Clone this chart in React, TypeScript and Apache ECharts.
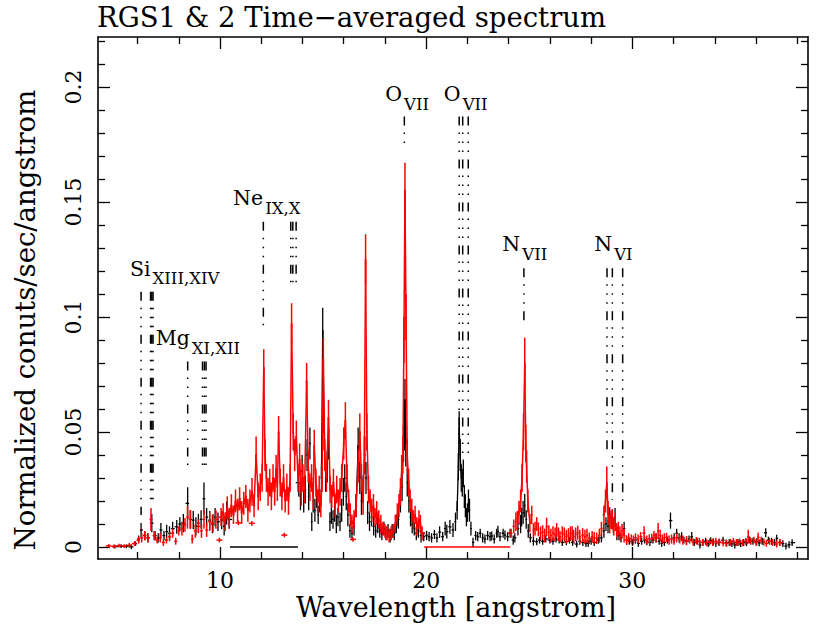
import React, { useEffect, useRef } from "react";
import * as echarts from "echarts";

const FONT = "'DejaVu Serif', 'Liberation Serif', serif";

const X_MIN = 4.08;
const X_MAX = 38.52;
const Y_MIN = -0.0052;
const Y_MAX = 0.2217;

const xMinorTicks = [6, 8, 12, 14, 16, 18, 22, 24, 26, 28, 32, 34, 36, 38];
const xMajorTicks = [10, 20, 30];
const yMinorTicks = [0.01, 0.02, 0.03, 0.04, 0.06, 0.07, 0.08, 0.09, 0.11, 0.12, 0.13, 0.14, 0.16, 0.17, 0.18, 0.19, 0.21, 0.22];
const yMajorTicks = [0, 0.05, 0.1, 0.15, 0.2];

// RGS1 (black): [wavelength, counts, error]
const rgs1 = [
  [4.9, 0.0002, 0.0008], [5.2, 0.0004, 0.0008], [5.45, 0.0003, 0.0008], [5.7, 0.0001, 0.001], [5.9, 0.0015, 0.001],
  [6.05, 0.0035, 0.0015], [6.17, 0.0074, 0.003], [6.35, 0.005, 0.002], [6.5, 0.004, 0.002], [6.69, 0.0104, 0.004],
  [6.85, 0.005, 0.002], [7.0, 0.004, 0.002], [7.13, 0.0074, 0.003], [7.28, 0.005, 0.002], [7.41, 0.0067, 0.003],
  [7.55, 0.006, 0.003], [7.7, 0.008, 0.003], [7.9, 0.0088, 0.003], [8.05, 0.01, 0.003], [8.22, 0.0104, 0.004],
  [8.43, 0.019, 0.007], [8.57, 0.012, 0.004], [8.7, 0.0117, 0.004], [8.83, 0.009, 0.004], [8.95, 0.0104, 0.004],
  [9.08, 0.012, 0.004], [9.22, 0.021, 0.007], [9.35, 0.013, 0.004], [9.5, 0.0117, 0.004], [9.63, 0.01, 0.004],
  [9.76, 0.013, 0.004], [9.9, 0.011, 0.004], [10.08, 0.0117, 0.004], [10.2, 0.009, 0.004], [10.32, 0.0148, 0.005],
  [10.44, 0.012, 0.004],
  [13.82, 0.028, 0.006], [13.9, 0.022, 0.006], [13.98, 0.033, 0.007], [14.06, 0.02, 0.005], [14.14, 0.025, 0.006],
  [14.22, 0.04, 0.007], [14.3, 0.022, 0.006], [14.36, 0.045, 0.007], [14.45, 0.011, 0.004], [14.52, 0.02, 0.005],
  [14.6, 0.016, 0.005], [14.68, 0.022, 0.005], [14.76, 0.014, 0.004], [14.84, 0.02, 0.005], [14.92, 0.03, 0.006],
  [14.98, 0.094, 0.01], [15.05, 0.05, 0.008], [15.12, 0.03, 0.006], [15.2, 0.035, 0.007], [15.27, 0.045, 0.007],
  [15.33, 0.011, 0.004], [15.4, 0.015, 0.005], [15.48, 0.012, 0.004], [15.56, 0.016, 0.005], [15.64, 0.01, 0.004],
  [15.72, 0.013, 0.004], [15.82, 0.011, 0.004], [15.9, 0.016, 0.005], [15.98, 0.024, 0.006], [16.05, 0.03, 0.006],
  [16.12, 0.022, 0.006], [16.2, 0.014, 0.005], [16.3, 0.007, 0.003], [16.4, 0.006, 0.003], [16.5, 0.009, 0.004],
  [16.6, 0.018, 0.005], [16.7, 0.044, 0.008], [16.78, 0.03, 0.007], [16.86, 0.02, 0.006], [16.94, 0.025, 0.006],
  [17.02, 0.04, 0.008], [17.08, 0.03, 0.007], [17.16, 0.015, 0.005], [17.25, 0.011, 0.004], [17.35, 0.013, 0.004],
  [17.45, 0.009, 0.004], [17.55, 0.007, 0.003], [17.65, 0.01, 0.004], [17.75, 0.007, 0.003], [17.85, 0.006, 0.003],
  [17.95, 0.008, 0.003], [18.05, 0.006, 0.003], [18.15, 0.007, 0.003], [18.25, 0.005, 0.003], [18.35, 0.007, 0.003],
  [18.45, 0.006, 0.003], [18.55, 0.01, 0.004], [18.65, 0.012, 0.004], [18.75, 0.02, 0.005], [18.83, 0.026, 0.006],
  [18.9, 0.045, 0.008], [18.94, 0.052, 0.01], [18.97, 0.064, 0.009], [19.01, 0.045, 0.01], [19.08, 0.028, 0.006],
  [19.16, 0.02, 0.005], [19.24, 0.013, 0.004], [19.32, 0.01, 0.004], [19.42, 0.008, 0.003], [19.52, 0.006, 0.003],
  [19.62, 0.007, 0.003], [19.75, 0.005, 0.003], [19.88, 0.0045, 0.002], [20.02, 0.005, 0.002], [20.14, 0.0045, 0.002],
  [20.26, 0.004, 0.002], [20.4, 0.0055, 0.002], [20.52, 0.004, 0.002], [20.65, 0.0065, 0.0025], [20.8, 0.0045, 0.002],
  [20.92, 0.008, 0.003], [21.0, 0.0067, 0.003], [21.15, 0.0088, 0.003], [21.3, 0.0074, 0.003], [21.42, 0.011, 0.004],
  [21.5, 0.016, 0.004], [21.56, 0.035, 0.006], [21.6, 0.052, 0.007], [21.65, 0.04, 0.007], [21.7, 0.03, 0.006],
  [21.75, 0.028, 0.006], [21.8, 0.032, 0.006], [21.85, 0.022, 0.005], [21.9, 0.018, 0.005], [21.95, 0.013, 0.004],
  [22.0, 0.015, 0.004], [22.05, 0.02, 0.005], [22.1, 0.016, 0.005], [22.17, 0.008, 0.003], [22.27, 0.002, 0.002],
  [22.4, 0.005, 0.002], [22.5, 0.0045, 0.002], [22.62, 0.006, 0.002], [22.74, 0.004, 0.002], [22.85, 0.0035, 0.002],
  [22.98, 0.005, 0.002], [23.1, 0.0045, 0.002], [23.18, 0.0048, 0.002], [23.3, 0.0035, 0.002], [23.42, 0.006, 0.002],
  [23.48, 0.0067, 0.0025], [23.58, 0.0045, 0.002], [23.73, 0.006, 0.002], [23.82, 0.0052, 0.002], [23.95, 0.0045, 0.002],
  [24.07, 0.006, 0.002], [24.22, 0.003, 0.002], [24.3, 0.004, 0.002], [24.45, 0.008, 0.003], [24.58, 0.01, 0.004],
  [24.63, 0.013, 0.004], [24.7, 0.015, 0.005], [24.78, 0.018, 0.005], [24.85, 0.012, 0.004], [24.95, 0.007, 0.003],
  [25.05, 0.004, 0.002], [25.2, 0.0026, 0.002], [25.36, 0.0023, 0.0015], [25.5, 0.003, 0.0015], [25.65, 0.0025, 0.0015],
  [25.8, 0.0035, 0.0015], [26.0, 0.003, 0.0015], [26.15, 0.0025, 0.0015], [26.3, 0.0035, 0.0015], [26.45, 0.003, 0.0015],
  [26.6, 0.002, 0.0015], [26.8, 0.0023, 0.0015], [26.95, 0.003, 0.0015], [27.1, 0.002, 0.0015], [27.3, 0.0013, 0.0015],
  [27.45, 0.0025, 0.0015], [27.6, 0.002, 0.0015], [27.75, 0.0015, 0.0015], [27.86, 0.0016, 0.0015], [28.0, 0.0025, 0.0015],
  [28.15, 0.002, 0.0015], [28.35, 0.003, 0.0015], [28.5, 0.004, 0.002], [28.62, 0.007, 0.003], [28.72, 0.01, 0.003],
  [28.82, 0.009, 0.003], [28.9, 0.0148, 0.0025], [28.98, 0.011, 0.003], [29.08, 0.009, 0.003], [29.16, 0.013, 0.004],
  [29.25, 0.006, 0.003], [29.35, 0.005, 0.002], [29.45, 0.004, 0.002], [29.6, 0.008, 0.003], [29.72, 0.003, 0.002],
  [29.85, 0.0025, 0.0015], [30.0, 0.002, 0.0015], [30.15, 0.003, 0.0015], [30.29, 0.0016, 0.0015], [30.45, 0.0025, 0.0015],
  [30.6, 0.003, 0.0015], [30.7, 0.0023, 0.0015], [30.85, 0.002, 0.0015], [31.0, 0.003, 0.0015], [31.15, 0.004, 0.002],
  [31.3, 0.0025, 0.0015], [31.42, 0.0016, 0.0015], [31.55, 0.002, 0.0015], [31.7, 0.003, 0.0015], [31.85, 0.0115, 0.0035],
  [32.03, 0.004, 0.002], [32.15, 0.006, 0.002], [32.27, 0.004, 0.002], [32.39, 0.0045, 0.002], [32.5, 0.003, 0.0015],
  [32.62, 0.0025, 0.0015], [32.75, 0.0035, 0.0015], [32.88, 0.0045, 0.002], [33.0, 0.002, 0.0015], [33.14, 0.0025, 0.0015],
  [33.28, 0.0009, 0.0015], [33.42, 0.002, 0.0015], [33.55, 0.0025, 0.0015], [33.68, 0.0015, 0.0015], [33.8, 0.0028, 0.0015],
  [33.93, 0.0023, 0.0015], [34.05, 0.0015, 0.0015], [34.2, 0.002, 0.0015], [34.4, 0.003, 0.0015], [34.55, 0.0018, 0.0015],
  [34.7, 0.002, 0.0015], [34.83, 0.0015, 0.0015], [34.97, 0.0009, 0.0015], [35.12, 0.002, 0.0015], [35.25, 0.0015, 0.0015],
  [35.4, 0.002, 0.0015], [35.54, 0.0019, 0.0015], [35.7, 0.003, 0.0015], [35.85, 0.0025, 0.0015], [36.03, 0.0023, 0.0015],
  [36.15, 0.0018, 0.0015], [36.3, 0.0025, 0.0015], [36.47, 0.0062, 0.002], [36.6, 0.003, 0.0015], [36.75, 0.0025, 0.0015],
  [36.9, 0.002, 0.0015], [37.0, 0.0038, 0.0015], [37.15, 0.002, 0.0015], [37.3, 0.0015, 0.0015], [37.45, 0.0004, 0.0015],
  [37.6, 0.001, 0.0015], [37.75, 0.0019, 0.0015],
];

// RGS2 (red): [wavelength, counts, error]
const rgs2 = [
  [4.6, 0.0005, 0.0008], [4.85, 0.0003, 0.0008], [5.1, 0.0006, 0.0008], [5.35, 0.0004, 0.0008], [5.6, 0.0008, 0.001],
  [5.85, 0.0015, 0.001], [6.05, 0.003, 0.0015], [6.2, 0.004, 0.002], [6.35, 0.005, 0.002], [6.5, 0.004, 0.002],
  [6.65, 0.012, 0.005], [6.8, 0.005, 0.002], [6.95, 0.003, 0.0015], [7.1, 0.004, 0.002], [7.25, 0.002, 0.0015],
  [7.4, 0.003, 0.0015], [7.55, 0.0045, 0.002], [7.7, 0.006, 0.002], [7.85, 0.0025, 0.0015], [8.0, 0.007, 0.002],
  [8.15, 0.008, 0.003], [8.3, 0.0096, 0.003], [8.42, 0.013, 0.005], [8.55, 0.012, 0.004], [8.65, 0.0035, 0.002],
  [8.8, 0.007, 0.003], [8.95, 0.009, 0.003], [9.1, 0.007, 0.003], [9.22, 0.012, 0.004], [9.35, 0.0074, 0.003],
  [9.5, 0.011, 0.004], [9.66, 0.0104, 0.004], [9.8, 0.012, 0.004],
  [10.05, 0.013, 0.004], [10.15, 0.015, 0.004], [10.25, 0.011, 0.004], [10.35, 0.017, 0.005], [10.45, 0.013, 0.004],
  [10.55, 0.018, 0.005], [10.65, 0.014, 0.004], [10.75, 0.02, 0.005], [10.85, 0.016, 0.005], [10.95, 0.021, 0.005],
  [11.05, 0.015, 0.005], [11.15, 0.019, 0.005], [11.25, 0.022, 0.005], [11.35, 0.016, 0.005], [11.45, 0.02, 0.005],
  [11.55, 0.024, 0.006], [11.65, 0.018, 0.005], [11.75, 0.04, 0.008], [11.85, 0.022, 0.006], [11.95, 0.026, 0.006],
  [12.04, 0.03, 0.006], [12.12, 0.078, 0.008], [12.18, 0.04, 0.007], [12.25, 0.03, 0.006], [12.33, 0.024, 0.006],
  [12.41, 0.028, 0.006], [12.49, 0.022, 0.006], [12.57, 0.03, 0.006], [12.65, 0.024, 0.006], [12.72, 0.034, 0.006],
  [12.78, 0.026, 0.006], [12.84, 0.05, 0.007], [12.92, 0.028, 0.006], [13.0, 0.022, 0.006], [13.08, 0.03, 0.006],
  [13.16, 0.02, 0.005], [13.24, 0.026, 0.006], [13.32, 0.02, 0.006], [13.4, 0.03, 0.006], [13.47, 0.097, 0.009],
  [13.55, 0.05, 0.008], [13.62, 0.04, 0.007], [13.7, 0.048, 0.007], [13.78, 0.03, 0.006], [13.86, 0.038, 0.007],
  [13.94, 0.024, 0.006], [14.02, 0.03, 0.006], [14.1, 0.025, 0.006], [14.2, 0.072, 0.008], [14.28, 0.035, 0.007],
  [14.36, 0.026, 0.006], [14.44, 0.03, 0.006], [14.52, 0.022, 0.006], [14.57, 0.044, 0.007], [14.65, 0.028, 0.006],
  [14.73, 0.02, 0.005], [14.81, 0.025, 0.006], [14.89, 0.018, 0.005], [14.95, 0.03, 0.006], [15.01, 0.082, 0.009],
  [15.08, 0.04, 0.007], [15.16, 0.03, 0.006], [15.26, 0.056, 0.008], [15.34, 0.025, 0.006], [15.42, 0.022, 0.005],
  [15.5, 0.028, 0.006], [15.58, 0.018, 0.005], [15.66, 0.025, 0.006], [15.74, 0.02, 0.005], [15.82, 0.024, 0.006],
  [15.9, 0.03, 0.006], [16.0, 0.045, 0.007], [16.08, 0.055, 0.008], [16.16, 0.03, 0.006], [16.24, 0.02, 0.005],
  [16.32, 0.014, 0.005], [16.4, 0.01, 0.004], [16.5, 0.012, 0.004], [16.6, 0.018, 0.005], [16.7, 0.035, 0.007],
  [16.78, 0.05, 0.008], [16.86, 0.03, 0.006], [16.94, 0.02, 0.006], [17.0, 0.04, 0.008], [17.06, 0.125, 0.011],
  [17.12, 0.05, 0.008], [17.2, 0.025, 0.006], [17.28, 0.02, 0.005], [17.36, 0.016, 0.005], [17.44, 0.018, 0.005],
  [17.52, 0.013, 0.004], [17.6, 0.015, 0.005], [17.7, 0.012, 0.004], [17.8, 0.01, 0.004], [17.9, 0.008, 0.003],
  [18.0, 0.007, 0.003], [18.1, 0.006, 0.003], [18.2, 0.005, 0.003], [18.3, 0.006, 0.003], [18.4, 0.007, 0.003],
  [18.5, 0.01, 0.004], [18.6, 0.014, 0.005], [18.68, 0.018, 0.005], [18.75, 0.024, 0.006], [18.81, 0.033, 0.007],
  [18.87, 0.04, 0.008], [18.92, 0.09, 0.01], [18.97, 0.155, 0.012], [19.02, 0.1, 0.01], [19.08, 0.04, 0.007],
  [19.15, 0.028, 0.006], [19.22, 0.02, 0.005], [19.3, 0.016, 0.005], [19.38, 0.012, 0.004], [19.46, 0.014, 0.004],
  [19.55, 0.009, 0.004], [19.65, 0.012, 0.004], [19.72, 0.01, 0.004], [19.8, 0.006, 0.003],
  [24.12, 0.006, 0.002], [24.25, 0.009, 0.003], [24.35, 0.011, 0.004], [24.42, 0.0117, 0.004], [24.5, 0.015, 0.005],
  [24.58, 0.02, 0.005], [24.65, 0.03, 0.006], [24.72, 0.05, 0.008], [24.78, 0.08, 0.011], [24.83, 0.045, 0.008],
  [24.87, 0.035, 0.007], [24.93, 0.02, 0.005], [25.03, 0.0104, 0.004], [25.12, 0.014, 0.004], [25.2, 0.0074, 0.003],
  [25.28, 0.008, 0.003], [25.36, 0.01, 0.003], [25.44, 0.0077, 0.003], [25.55, 0.006, 0.003], [25.65, 0.0065, 0.003],
  [25.75, 0.005, 0.003], [25.84, 0.0088, 0.004], [25.95, 0.0065, 0.003], [26.05, 0.005, 0.003], [26.15, 0.006, 0.003],
  [26.25, 0.0055, 0.003], [26.33, 0.0074, 0.003], [26.42, 0.0055, 0.003], [26.49, 0.0045, 0.0025], [26.6, 0.006, 0.003],
  [26.7, 0.0055, 0.003], [26.8, 0.0045, 0.003], [26.9, 0.0052, 0.003], [27.0, 0.006, 0.003], [27.08, 0.006, 0.003],
  [27.15, 0.0045, 0.003], [27.25, 0.0055, 0.003], [27.35, 0.0062, 0.003], [27.45, 0.0045, 0.003], [27.59, 0.0052, 0.003],
  [27.7, 0.0045, 0.003], [27.8, 0.005, 0.003], [27.91, 0.0038, 0.0025], [28.05, 0.0045, 0.0025], [28.15, 0.004, 0.0025],
  [28.27, 0.0038, 0.0025], [28.4, 0.005, 0.003], [28.5, 0.008, 0.003], [28.62, 0.014, 0.004], [28.7, 0.02, 0.005],
  [28.76, 0.028, 0.007], [28.82, 0.015, 0.005], [28.9, 0.01, 0.004], [28.97, 0.012, 0.004], [29.03, 0.012, 0.0045],
  [29.1, 0.009, 0.004], [29.17, 0.011, 0.004], [29.24, 0.0074, 0.003], [29.32, 0.008, 0.003], [29.4, 0.006, 0.003],
  [29.5, 0.007, 0.003], [29.6, 0.005, 0.003], [29.72, 0.003, 0.002], [29.82, 0.004, 0.002], [29.95, 0.0035, 0.002],
  [30.05, 0.003, 0.002], [30.15, 0.004, 0.002], [30.28, 0.0035, 0.002], [30.4, 0.0045, 0.002], [30.57, 0.006, 0.003],
  [30.7, 0.003, 0.002], [30.82, 0.0035, 0.002], [30.94, 0.0038, 0.002], [31.05, 0.005, 0.002], [31.15, 0.004, 0.002],
  [31.25, 0.007, 0.0035], [31.35, 0.005, 0.0025], [31.45, 0.0035, 0.002], [31.55, 0.004, 0.002], [31.66, 0.0042, 0.002],
  [31.78, 0.003, 0.002], [31.9, 0.0035, 0.002], [32.02, 0.003, 0.002], [32.15, 0.004, 0.002], [32.3, 0.0035, 0.002],
  [32.45, 0.003, 0.002], [32.63, 0.0028, 0.002], [32.78, 0.003, 0.0015], [32.95, 0.0022, 0.0015], [33.1, 0.0028, 0.0015],
  [33.25, 0.0025, 0.0015], [33.42, 0.002, 0.0015], [33.6, 0.0019, 0.0015], [33.75, 0.0022, 0.0015], [33.9, 0.002, 0.0015],
  [34.05, 0.0025, 0.0015], [34.22, 0.0022, 0.0015], [34.4, 0.0018, 0.0015], [34.57, 0.0016, 0.0015], [34.75, 0.002, 0.0015],
  [34.9, 0.0025, 0.0015], [35.05, 0.002, 0.0015], [35.2, 0.0022, 0.0015], [35.35, 0.0018, 0.0015], [35.5, 0.0025, 0.0015],
  [35.62, 0.0045, 0.003], [35.75, 0.0025, 0.0015], [35.9, 0.003, 0.0015], [36.0, 0.002, 0.0015], [36.1, 0.0042, 0.002],
  [36.25, 0.003, 0.0015], [36.38, 0.0022, 0.0015], [36.5, 0.0016, 0.0015], [36.65, 0.0025, 0.0015], [36.8, 0.002, 0.0015],
  [37.0, 0.0013, 0.0015], [37.15, 0.002, 0.0015],
];

// isolated low RGS2 bins
const rgs2Isolated = [
  [9.97, 0.003, 0.001], [10.89, 0.0105, 0.001], [11.54, 0.0103, 0.001], [13.12, 0.0052, 0.001], [16.45, 0.0033, 0.001],
];

// wavelength ranges where neighbouring bins are joined
const rgs1Joined = [[14.9, 15.1], [16.6, 16.8], [18.85, 19.05], [21.5, 21.7]];
const rgs2Joined = [[10.0, 19.85], [24.4, 25.1], [28.55, 28.9]];

// detector gaps (zero-count segments)
const rgs1Gap = [10.48, 13.78];
const rgs2Gap = [19.9, 24.08];

// line identification markers
const markerWave = [6.17, 6.63, 6.69, 6.75, 8.43, 9.15, 9.24, 9.32, 12.1, 13.43, 13.53, 13.69, 18.94, 21.6, 21.77, 22.04, 24.74, 28.77, 29.03, 29.53];
const markerTop = [0.111, 0.111, 0.111, 0.111, 0.0806, 0.0806, 0.0806, 0.0806, 0.1414, 0.1414, 0.1414, 0.1414, 0.1871, 0.1871, 0.1871, 0.1871, 0.1212, 0.1212, 0.1212, 0.1212];
const markerBottom = [0.0139, 0.0204, 0.0204, 0.0204, 0.0357, 0.0357, 0.0357, 0.0357, 0.0958, 0.1148, 0.1148, 0.1148, 0.1748, 0.045, 0.04, 0.04, 0.098, 0.041, 0.0204, 0.0197];

const ionMain = ["Si", "Mg", "Ne", "O", "O", "N", "N"];
const ionSub = ["XIII,XIV", "XI,XII", "IX,X", "VII", "VII", "VII", "VI"];
const ionX = [6.68, 8.58, 12.14, 18.88, 21.72, 24.61, 29.07];
const ionY = [0.1178, 0.0875, 0.1483, 0.1935, 0.1935, 0.1283, 0.1283];

function errorBars(data: number[][], color: string, joined: number[][], width: number) {
  const inJoined = (x: number) => joined.some(([a, b]) => x >= a && x <= b);
  return {
    type: "custom",
    xAxisIndex: 0,
    yAxisIndex: 0,
    data,
    encode: { x: 0, y: 1 },
    clip: true,
    renderItem: (params: any, api: any) => {
      const i = params.dataIndex;
      const [x, y, e] = data[i];
      const c = api.coord([x, y]);
      const t = api.coord([x, y + e]);
      const b = api.coord([x, y - e]);
      const prev = data[i - 1];
      const next = data[i + 1];
      let hl = 3;
      let hr = 3;
      if (prev) hl = Math.max(0.6, Math.min(3, (c[0] - api.coord([prev[0], y])[0]) / 2));
      if (next) hr = Math.max(0.6, Math.min(3, (api.coord([next[0], y])[0] - c[0]) / 2));
      const st = () => ({ stroke: color, lineWidth: width, fill: null });
      const children: any[] = [
        { type: "line", shape: { x1: c[0], y1: t[1], x2: c[0], y2: b[1] }, style: st() },
        { type: "line", shape: { x1: c[0] - hl, y1: c[1], x2: c[0] + hr, y2: c[1] }, style: st() },
      ];
      if (next && inJoined(x) && inJoined(next[0])) {
        const n = api.coord([next[0], next[1]]);
        children.push({ type: "line", shape: { x1: c[0], y1: c[1], x2: n[0], y2: n[1] }, style: st() });
      }
      return { type: "group", children };
    },
    z: 2,
  };
}

export default function App() {
  const ref = useRef<HTMLDivElement>(null);
  useEffect(() => {
    if (!ref.current) return;
    const chart = echarts.init(ref.current, null, { renderer: "svg" });
    const tickLine = { color: "#000", width: 1.3 };
    const mkX = (pos: string, ticks: number[], len: number, withLine: boolean, labels: boolean) => ({
      type: "value",
      position: pos,
      min: X_MIN,
      max: X_MAX,
      axisLine: { show: withLine, onZero: false, lineStyle: { color: "#000", width: 1.6 } },
      axisTick: { show: true, inside: true, length: len, customValues: ticks, lineStyle: tickLine },
      axisLabel: labels
        ? { show: true, customValues: xMajorTicks, margin: 10, fontSize: 22, fontFamily: FONT, color: "#000" }
        : { show: false },
      splitLine: { show: false },
    });
    const mkY = (pos: string, ticks: number[], len: number, withLine: boolean, labels: boolean) => ({
      type: "value",
      position: pos,
      min: Y_MIN,
      max: Y_MAX,
      axisLine: { show: withLine, onZero: false, lineStyle: { color: "#000", width: 1.6 } },
      axisTick: { show: true, inside: true, length: len, customValues: ticks, lineStyle: tickLine },
      axisLabel: labels
        ? {
            show: true,
            customValues: yMajorTicks,
            rotate: 90,
            margin: 14,
            fontSize: 22,
            fontFamily: FONT,
            color: "#000",
            formatter: (v: number) => String(v),
          }
        : { show: false },
      splitLine: { show: false },
    });

    const option: any = {
      animation: false,
      backgroundColor: "#fff",
      grid: { left: 98, right: 22, top: 37, bottom: 78, containLabel: false },
      xAxis: [
        mkX("bottom", xMinorTicks, 7, true, true),
        mkX("bottom", xMajorTicks, 12, false, false),
        mkX("top", xMinorTicks, 7, true, false),
        mkX("top", xMajorTicks, 12, false, false),
      ],
      yAxis: [
        mkY("left", yMinorTicks, 7, true, false),
        mkY("left", yMajorTicks, 12, false, true),
        mkY("right", yMinorTicks, 7, true, false),
        mkY("right", yMajorTicks, 12, false, false),
      ],
      graphic: [
        {
          type: "text",
          x: 97,
          y: 17,
          style: { text: "RGS1 & 2 Time\u2212averaged spectrum", fontSize: 27.5, fontFamily: FONT, fill: "#000", textVerticalAlign: "middle" },
        },
        {
          type: "text",
          x: 456,
          y: 607,
          style: { text: "Wavelength [angstrom]", fontSize: 27, fontFamily: FONT, fill: "#000", textAlign: "center", textVerticalAlign: "middle" },
        },
        {
          type: "text",
          x: 25,
          y: 320,
          rotation: Math.PI / 2,
          style: { text: "Normalized conuts/sec/angstrom", fontSize: 27.5, fontFamily: FONT, fill: "#000", textAlign: "center", textVerticalAlign: "middle" },
        },
      ],
      series: [
        {
          type: "line",
          xAxisIndex: 0,
          yAxisIndex: 0,
          data: [[rgs1Gap[0], 0], [rgs1Gap[1], 0]],
          symbol: "none",
          lineStyle: { color: "#000", width: 1.4 },
          z: 2,
        },
        errorBars(rgs1, "#000", rgs1Joined, 1.3),
        {
          type: "line",
          xAxisIndex: 0,
          yAxisIndex: 0,
          data: [[rgs2Gap[0], 0], [rgs2Gap[1], 0]],
          symbol: "none",
          lineStyle: { color: "#ff0000", width: 1.4 },
          z: 3,
        },
        { ...errorBars(rgs2, "#ff0000", rgs2Joined, 1.5), z: 3 },
        { ...errorBars(rgs2Isolated, "#ff0000", [], 1.5), z: 3 },
        {
          type: "custom",
          xAxisIndex: 0,
          yAxisIndex: 0,
          data: markerWave.map((w, i) => [w, markerTop[i], markerBottom[i]]),
          encode: { x: 0, y: 1 },
          renderItem: (params: any, api: any) => {
            const i = params.dataIndex;
            const t = api.coord([markerWave[i], markerTop[i]]);
            const b = api.coord([markerWave[i], markerBottom[i]]);
            return {
              type: "line",
              shape: { x1: t[0], y1: t[1], x2: b[0], y2: b[1] },
              style: { stroke: "#000", lineWidth: 1.5, lineDash: [9, 7, 1.5, 7.5, 1.5, 7.5, 1.5, 7.5] },
            };
          },
          z: 4,
        },
        {
          type: "custom",
          xAxisIndex: 0,
          yAxisIndex: 0,
          data: ionX.map((x, i) => [x, ionY[i]]),
          encode: { x: 0, y: 1 },
          renderItem: (params: any, api: any) => {
            const i = params.dataIndex;
            const p = api.coord([ionX[i], ionY[i]]);
            return {
              type: "group",
              children: [
                {
                  type: "text",
                  x: p[0] - 1,
                  y: p[1] - 7.5,
                  style: { text: ionMain[i], fontSize: 20.5, fontFamily: FONT, fill: "#000", textAlign: "right", textVerticalAlign: "middle" },
                },
                {
                  type: "text",
                  x: p[0] + 1,
                  y: p[1] + 2.5,
                  style: { text: ionSub[i], fontSize: 16.5, fontFamily: FONT, fill: "#000", textAlign: "left", textVerticalAlign: "middle" },
                },
              ],
            };
          },
          z: 5,
        },
      ],
    };
    chart.setOption(option);
    return () => chart.dispose();
  }, []);
  return <div ref={ref} style={{ position: "fixed", left: 0, top: 0, width: 830, height: 637, background: "#fff" }} />;
}
